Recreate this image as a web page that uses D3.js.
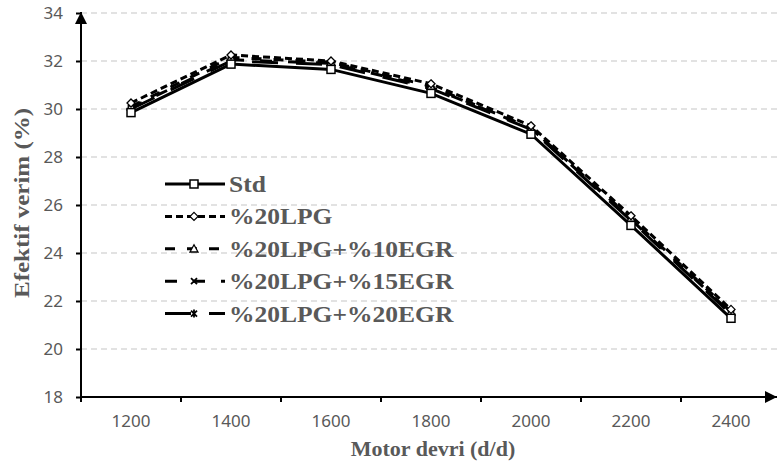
<!DOCTYPE html>
<html>
<head>
<meta charset="utf-8">
<script src="https://cdn.jsdelivr.net/npm/d3@7/dist/d3.min.js"></script>
<style>
  html, body { margin: 0; padding: 0; background: #fff; }
  svg { display: block; }
</style>
</head>
<body>
<svg id="chart" width="777" height="468"></svg>
<script>
// Engine speed (rpm) categories
const speeds = ["1200", "1400", "1600", "1800", "2000", "2200", "2400"];

// Brake thermal efficiency (%) per fuel / EGR setting
const stdValues     = [29.85, 31.87, 31.65, 30.65, 28.95, 25.15, 21.28];
const lpg20Values   = [30.25, 32.25, 32.00, 31.05, 29.30, 25.55, 21.65];
const egr10Values   = [30.10, 32.15, 31.95, 30.95, 29.20, 25.45, 21.55];
const egr15Values   = [30.05, 32.05, 31.90, 30.90, 29.20, 25.40, 21.50];
const egr20Values   = [30.00, 32.00, 31.85, 30.85, 29.15, 25.35, 21.45];

const seriesNames = ["Std", "%20LPG", "%20LPG+%10EGR", "%20LPG+%15EGR", "%20LPG+%20EGR"];
const yTicks = [18, 20, 22, 24, 26, 28, 30, 32, 34];

const series = [
  { name: seriesNames[0], values: stdValues,   dash: null,    marker: "square" },
  { name: seriesNames[1], values: lpg20Values, dash: "7,4",   marker: "diamond" },
  { name: seriesNames[2], values: egr10Values, dash: "10,12", marker: "triangle" },
  { name: seriesNames[3], values: egr15Values, dash: "12,16", marker: "cross" },
  { name: seriesNames[4], values: egr20Values, dash: "26,18", marker: "asterisk" }
];

const svg = d3.select("#chart");
const plotLeft = 81, plotRight = 781, plotTop = 13, plotBottom = 397;

const x = d3.scaleBand().domain(speeds).range([plotLeft, plotRight]).padding(0);
const y = d3.scaleLinear().domain([18, 34]).range([plotBottom, plotTop]);
const cx = d => x(d) + x.bandwidth() / 2;

const tickColor = "#595959";
const tickFont = "'Noto Sans', sans-serif";
const titleFont = "'Liberation Serif', 'Times New Roman', serif";

// Dashed horizontal gridlines
svg.append("g")
  .selectAll("line")
  .data(yTicks.filter(t => t > 18))
  .join("line")
  .attr("x1", plotLeft).attr("x2", 777)
  .attr("y1", d => y(d)).attr("y2", d => y(d))
  .attr("stroke", "#d9d9d9")
  .attr("stroke-width", 1.5)
  .attr("stroke-dasharray", "6,4");

// Y axis with tick labels
const yAxis = svg.append("g")
  .attr("transform", `translate(${plotLeft},0)`)
  .call(d3.axisLeft(y).tickValues(yTicks).tickSize(5).tickSizeOuter(0).tickPadding(13));
yAxis.select(".domain").remove();
yAxis.selectAll(".tick line").attr("stroke", "#000").attr("stroke-width", 2);
yAxis.selectAll(".tick text")
  .attr("fill", tickColor)
  .style("font-family", tickFont)
  .style("font-size", "17px");

// X axis: category labels, ticks between categories
const xAxis = svg.append("g")
  .attr("transform", `translate(0,${plotBottom})`)
  .call(d3.axisBottom(x).tickSize(0).tickPadding(18));
xAxis.select(".domain").remove();
xAxis.selectAll(".tick text")
  .attr("fill", tickColor)
  .style("font-family", tickFont)
  .style("font-size", "17px");
svg.append("g")
  .selectAll("line")
  .data(speeds)
  .join("line")
  .attr("x1", d => x(d)).attr("x2", d => x(d))
  .attr("y1", plotBottom).attr("y2", plotBottom + 5)
  .attr("stroke", "#000").attr("stroke-width", 2);

// Axis lines with arrow heads
const defs = svg.append("defs");
defs.append("marker")
  .attr("id", "arrow")
  .attr("viewBox", "0 0 10 10")
  .attr("refX", 10).attr("refY", 5)
  .attr("markerWidth", 6).attr("markerHeight", 6)
  .attr("markerUnits", "strokeWidth")
  .attr("orient", "auto")
  .append("path")
  .attr("d", "M0,0 L10,5 L0,10 Z")
  .attr("fill", "#000");

svg.append("line")
  .attr("x1", plotLeft).attr("x2", 777)
  .attr("y1", plotBottom).attr("y2", plotBottom)
  .attr("stroke", "#000").attr("stroke-width", 2)
  .attr("marker-end", "url(#arrow)");
svg.append("line")
  .attr("x1", plotLeft).attr("x2", plotLeft)
  .attr("y1", plotBottom + 5).attr("y2", plotTop - 1)
  .attr("stroke", "#000").attr("stroke-width", 2)
  .attr("marker-end", "url(#arrow)");

// Marker shapes
function drawMarker(g, type, px, py) {
  const s = 4;
  if (type === "square") {
    g.append("rect").attr("x", px - s).attr("y", py - s).attr("width", 2 * s).attr("height", 2 * s)
      .attr("fill", "#fff").attr("stroke", "#000").attr("stroke-width", 1.5);
  } else if (type === "diamond") {
    g.append("path").attr("d", `M${px},${py - s} L${px + s},${py} L${px},${py + s} L${px - s},${py} Z`)
      .attr("fill", "#fff").attr("stroke", "#000").attr("stroke-width", 1.3);
  } else if (type === "triangle") {
    g.append("path").attr("d", `M${px},${py - s} L${px + s},${py + s * 0.8} L${px - s},${py + s * 0.8} Z`)
      .attr("fill", "#fff").attr("stroke", "#000").attr("stroke-width", 1.3);
  } else if (type === "cross") {
    g.append("path").attr("d", `M${px - 3},${py - 3} L${px + 3},${py + 3} M${px - 3},${py + 3} L${px + 3},${py - 3}`)
      .attr("stroke", "#000").attr("stroke-width", 1.8);
  } else if (type === "asterisk") {
    g.append("path").attr("d", `M${px - 3},${py - 3} L${px + 3},${py + 3} M${px - 3},${py + 3} L${px + 3},${py - 3} M${px},${py - 4} L${px},${py + 4}`)
      .attr("stroke", "#000").attr("stroke-width", 1.8);
  }
}

// Series lines (drawn from last to first so Std sits on top)
const line = d3.line().x((d, i) => cx(speeds[i])).y(d => y(d));
const plot = svg.append("g");
series.slice().reverse().forEach(s => {
  plot.append("path")
    .datum(s.values)
    .attr("d", line)
    .attr("fill", "none")
    .attr("stroke", "#000")
    .attr("stroke-width", 3)
    .attr("stroke-dasharray", s.dash);
});
series.slice().reverse().forEach(s => {
  const mg = plot.append("g");
  s.values.forEach((v, i) => drawMarker(mg, s.marker, cx(speeds[i]), y(v)));
});

// Legend
const legend = svg.append("g");
series.forEach((s, i) => {
  const ly = 184 + i * 32.4;
  const row = legend.append("g");
  row.append("line")
    .attr("x1", 165).attr("x2", 225)
    .attr("y1", ly).attr("y2", ly)
    .attr("stroke", "#000").attr("stroke-width", 3)
    .attr("stroke-dasharray", s.dash);
  drawMarker(row, s.marker, 194, ly);
  row.append("text")
    .attr("x", 229).attr("y", ly + 8)
    .attr("fill", tickColor)
    .style("font-family", titleFont)
    .style("font-weight", "bold")
    .style("font-size", "23px")
    .attr("transform", `translate(229,0) scale(1.11,1) translate(-229,0)`)
    .text(s.name);
});

// Axis titles
svg.append("text")
  .attr("x", 433).attr("y", 456)
  .attr("text-anchor", "middle")
  .attr("fill", tickColor)
  .style("font-family", titleFont)
  .style("font-weight", "bold")
  .style("font-size", "22px")
  .text("Motor devri (d/d)");

svg.append("text")
  .attr("transform", "translate(29,203) rotate(-90)")
  .attr("text-anchor", "middle")
  .attr("fill", tickColor)
  .style("font-family", titleFont)
  .style("font-weight", "bold")
  .style("font-size", "21px")
  .attr("textLength", 190)
  .attr("lengthAdjust", "spacingAndGlyphs")
  .text("Efektif verim (%)");
</script>
</body>
</html>
